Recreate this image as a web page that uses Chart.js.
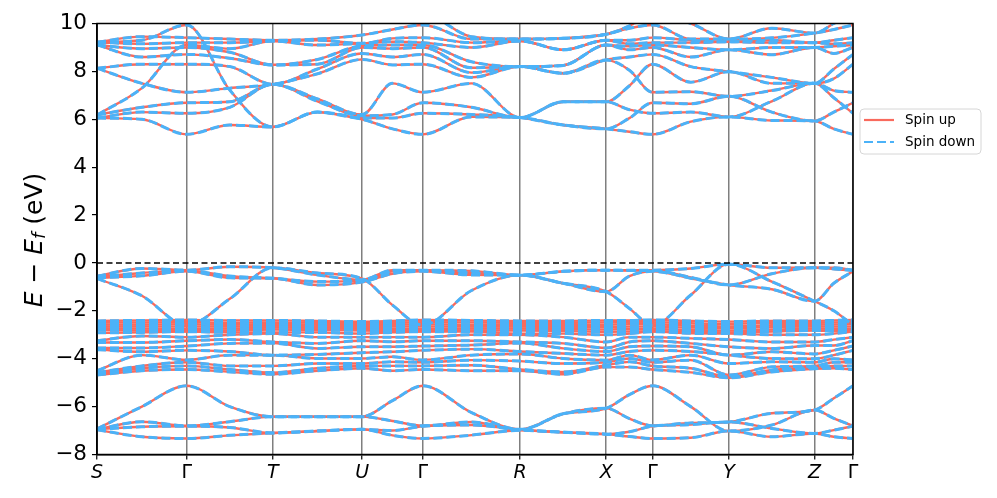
<!DOCTYPE html>
<html><head><meta charset="utf-8">
<script src="https://cdn.jsdelivr.net/npm/chart.js@4.4.0/dist/chart.umd.min.js"></script>
<style>html,body{margin:0;padding:0;background:#fff;}</style>
</head><body>
<canvas id="c" width="997" height="498" style="display:block;width:997px;height:498px"></canvas>
<script>
// High-symmetry path
const kLabels = ['S','Γ','T','U','Γ','R','X','Γ','Y','Z','Γ'];
const kTicks  = [0, 89.7, 175.7, 265, 325.7, 423, 509, 555.3, 631.7, 717.3, 755.7];
// k sampling (high-symmetry points and segment midpoints)
const kGrid = [0,44.9,89.7,132.7,175.7,220.4,265,295.4,325.7,374.4,423,466,509,532.2,555.3,593.5,631.7,674.5,717.3,736.5,755.7];
const yTicks = [-8,-6,-4,-2,0,2,4,6,8,10];

// Conduction bands (eV)
const cbA = [6.05,6.0,5.37,5.76,5.68,6.3,6.05,6.05,6.25,6.2,6.07,5.76,5.6,6.05,6.69,6.65,6.96,6.3,5.93,6.3,6.69];
const cbB = [6.05,6.3,6.25,6.5,7.46,6.75,6.15,6.2,6.69,6.5,6.07,6.73,6.73,6.4,6.25,6.3,6.1,6.75,7.5,6.9,6.25];
const cbC = [6.18,6.5,6.69,6.73,7.46,6.85,6.2,7.5,7.13,7.5,6.07,6.73,6.73,7.4,8.30,7.55,7.99,7.5,7.5,7.7,8.30];
const cbD = [6.18,7.3,9.1,8.95,9.27,9.1,9.17,9.24,9.2,9.0,9.27,8.9,9.3,9.15,9.2,9.2,9.24,9.2,9.2,9.15,9.2];
const cbE = [8.13,7.5,7.13,7.3,7.46,7.9,8.5,8.27,8.30,7.75,8.2,7.92,8.48,8.05,7.13,7.15,6.96,7.2,7.5,7.2,7.13];
const cbF = [8.13,8.3,8.30,8.2,7.46,8.1,8.75,8.6,8.71,7.95,8.2,7.92,8.48,8.6,8.71,8.2,7.99,7.75,7.5,8.1,8.71];
const cbG = [9.1,8.6,8.71,8.55,8.27,8.3,9.0,8.95,9.0,8.15,8.2,8.25,9.1,8.9,9.0,8.6,8.9,8.7,9.0,8.75,9.0];
const cbH = [9.1,8.95,9.0,8.8,8.27,8.5,9.07,9.1,9.1,8.4,8.2,8.25,9.1,9.05,9.1,9.0,8.9,9.0,9.0,9.05,9.1];
const cbI = [9.22,9.15,9.2,9.2,9.27,9.3,9.17,9.38,9.41,9.2,9.27,8.9,9.3,9.3,9.41,9.3,9.24,9.3,9.2,9.3,9.41];
const cbJ = [9.22,9.45,9.41,9.35,9.3,9.35,9.52,9.75,9.94,9.35,9.35,9.38,9.55,9.8,9.94,9.35,9.35,9.4,9.6,9.75,9.94];
const cbK = [9.22,9.3,9.94,7.22,5.68,6.3,6.0,5.6,5.37,6.1,6.07,5.76,5.6,5.48,5.37,5.9,6.1,5.95,5.93,5.6,5.37];
const cbL = [10.3,10.4,10.4,10.2,10.2,10.2,10.2,10.3,10.4,9.45,9.35,9.38,9.55,9.9,10.4,10.0,9.35,9.8,9.6,10.0,10.4];

// Top valence bands
const vtW = [-0.65,-1.37,-2.6,-1.5,-0.2,-0.42,-0.65,-1.76,-2.6,-1.15,-0.51,-0.85,-1.2,-1.9,-2.6,-1.34,-0.05,-0.78,-1.6,-2.0,-2.6];
const vtP = [-0.55,-0.23,-0.30,-0.16,-0.2,-0.5,-0.7,-0.3,-0.3,-0.33,-0.51,-0.35,-0.3,-0.3,-0.3,-0.23,-0.05,-0.2,-0.2,-0.2,-0.3];
const vtQ = [-0.58,-0.42,-0.32,-0.55,-0.64,-0.78,-0.75,-0.35,-0.32,-0.42,-0.51,-0.35,-0.3,-0.32,-0.32,-0.6,-0.92,-0.45,-0.2,-0.25,-0.32];
const vtR = [-0.62,-0.54,-0.35,-0.62,-0.64,-0.92,-0.8,-0.45,-0.35,-0.5,-0.51,-0.85,-1.2,-0.55,-0.35,-0.64,-0.92,-1.1,-1.6,-0.85,-0.35];

// Flat bundle near -2.4 .. -2.9
const st1 = [-2.42,-2.40,-2.38,-2.40,-2.40,-2.42,-2.45,-2.42,-2.38,-2.40,-2.42,-2.42,-2.40,-2.40,-2.38,-2.42,-2.45,-2.42,-2.42,-2.40,-2.38];
const st2 = [-2.50,-2.48,-2.47,-2.50,-2.48,-2.50,-2.52,-2.50,-2.47,-2.48,-2.50,-2.50,-2.48,-2.47,-2.47,-2.52,-2.55,-2.50,-2.50,-2.48,-2.47];
const st3 = [-2.58,-2.57,-2.56,-2.58,-2.55,-2.58,-2.60,-2.58,-2.56,-2.58,-2.58,-2.60,-2.58,-2.56,-2.56,-2.62,-2.65,-2.60,-2.58,-2.57,-2.56];
const st4 = [-2.66,-2.65,-2.66,-2.66,-2.62,-2.65,-2.68,-2.66,-2.66,-2.66,-2.66,-2.68,-2.68,-2.66,-2.66,-2.70,-2.72,-2.68,-2.66,-2.66,-2.66];
const st5 = [-2.73,-2.74,-2.76,-2.74,-2.70,-2.72,-2.75,-2.75,-2.76,-2.74,-2.74,-2.76,-2.78,-2.76,-2.76,-2.80,-2.82,-2.78,-2.74,-2.75,-2.76];
const st6 = [-2.80,-2.82,-2.85,-2.82,-2.78,-2.80,-2.82,-2.84,-2.85,-2.82,-2.82,-2.84,-2.88,-2.86,-2.85,-2.88,-2.90,-2.86,-2.82,-2.84,-2.85];

// Middle valence bands (-2.9 .. -4.8)
const mv1 = [-2.92,-2.9,-2.87,-2.9,-2.9,-2.9,-2.95,-2.9,-2.87,-2.87,-2.95,-2.95,-3.0,-2.95,-2.87,-2.94,-2.95,-3.0,-3.0,-2.95,-2.87];
const mv2 = [-3.25,-3.05,-3.1,-3.0,-2.95,-3.1,-3.1,-3.1,-3.1,-3.0,-3.0,-3.1,-3.3,-3.1,-3.1,-3.15,-3.2,-3.3,-3.3,-3.2,-3.1];
const mv3 = [-3.32,-3.32,-3.25,-3.2,-3.3,-3.36,-3.25,-3.29,-3.25,-3.25,-3.3,-3.36,-3.55,-3.3,-3.25,-3.36,-3.5,-3.57,-3.45,-3.45,-3.25];
const mv4 = [-3.55,-3.55,-3.47,-3.36,-3.35,-3.57,-3.5,-3.5,-3.47,-3.43,-3.35,-3.57,-3.7,-3.5,-3.47,-3.5,-3.85,-3.71,-3.8,-3.65,-3.47];
const mv5 = [-3.62,-3.71,-3.65,-3.7,-3.85,-3.82,-3.75,-3.71,-3.65,-3.6,-3.7,-3.78,-3.85,-3.7,-3.65,-3.7,-3.85,-3.99,-4.0,-3.85,-3.65];
const mv6 = [-4.5,-3.85,-4.05,-3.85,-3.85,-3.99,-3.99,-3.92,-4.05,-3.85,-3.8,-3.99,-4.06,-3.85,-4.05,-3.85,-4.2,-4.13,-4.15,-4.0,-4.05];
const mv7 = [-4.58,-4.3,-4.15,-4.3,-4.3,-4.2,-4.2,-4.13,-4.15,-4.06,-4.1,-4.2,-4.15,-3.99,-4.15,-4.06,-4.68,-4.34,-4.3,-4.15,-4.15];
const mv8 = [-4.63,-4.4,-4.3,-4.45,-4.58,-4.4,-4.3,-4.3,-4.3,-4.27,-4.45,-4.55,-4.27,-4.13,-4.3,-4.4,-4.75,-4.47,-4.35,-4.3,-4.3];
const mv9 = [-4.68,-4.5,-4.45,-4.55,-4.65,-4.5,-4.4,-4.5,-4.45,-4.5,-4.5,-4.65,-4.35,-4.35,-4.45,-4.57,-4.8,-4.55,-4.42,-4.4,-4.45];

// Lower valence bands (-5 .. -7.4)
const lbA = [-6.93,-6.0,-5.13,-6.0,-6.42,-6.42,-6.42,-5.75,-5.13,-6.25,-6.95,-6.3,-6.07,-5.5,-5.13,-6.0,-7.02,-6.77,-6.14,-6.49,-6.8];
const lbB = [-6.95,-6.63,-6.8,-6.63,-6.42,-6.42,-6.42,-6.6,-6.8,-6.64,-6.97,-6.3,-6.07,-6.5,-6.8,-6.68,-6.64,-6.28,-6.14,-5.65,-5.13];
const lbC = [-6.95,-6.84,-6.82,-6.87,-7.1,-7.02,-6.95,-7.0,-6.82,-6.77,-6.97,-7.07,-7.15,-7.05,-6.82,-6.75,-6.64,-6.91,-7.12,-6.98,-6.82];
const lbD = [-6.97,-7.26,-7.33,-7.2,-7.1,-7.02,-6.95,-7.2,-7.33,-7.19,-6.99,-7.07,-7.15,-7.25,-7.33,-7.3,-7.02,-7.26,-7.12,-7.26,-7.33];

const spinUpBands = [cbA,cbB,cbC,cbD,cbE,cbF,cbG,cbH,cbI,cbJ,cbK,cbL,vtW,vtP,vtQ,vtR,st1,st2,st3,st4,st5,st6,mv1,mv2,mv3,mv4,mv5,mv6,mv7,mv8,mv9,lbA,lbB,lbC,lbD];
const spinDownBands = spinUpBands; // both spin channels coincide in the figure

const RED = '#f96a5d';
const BLUE = '#4bb2f8';
const FONT = 'DejaVu Sans';

const datasets = [];
datasets.push({label:'Ef', data:[{x:kTicks[0],y:0},{x:kTicks[kTicks.length-1],y:0}], borderColor:'#000', borderWidth:1.6, borderDash:[6,3.5], pointRadius:0, order:-1, clip:0});
spinDownBands.forEach(b => {
  datasets.push({label:'Spin down', data:b.map((v,i)=>({x:kGrid[i],y:v})), borderColor:BLUE, borderWidth:3, borderDash:[9,4],
    pointRadius:0, order:0, cubicInterpolationMode:'monotone', clip:0});
});
spinUpBands.forEach(b => {
  datasets.push({label:'Spin up', data:b.map((v,i)=>({x:kGrid[i],y:v})), borderColor:RED, borderWidth:2.4,
    pointRadius:0, order:1, cubicInterpolationMode:'monotone', clip:0});
});

const framePlugin = {
  id:'frame',
  afterDraw(chart){
    const {ctx, chartArea:a} = chart;
    ctx.save();
    ctx.strokeStyle = '#000'; ctx.lineWidth = 1.5;
    ctx.strokeRect(a.left, a.top, a.right-a.left, a.bottom-a.top);
    // y-axis label: E − E_f (eV)
    ctx.translate(35, 240);
    ctx.rotate(-Math.PI/2);
    const fs = 25;
    const parts = [
      {t:'E', f:`italic ${fs}px "${FONT}"`, dy:0},
      {t:' \u2212 ', f:`${fs}px "${FONT}"`, dy:0},
      {t:'E', f:`italic ${fs}px "${FONT}"`, dy:0},
      {t:'f', f:`italic ${Math.round(fs*0.7)}px "${FONT}"`, dy:5},
      {t:' (eV)', f:`${fs}px "${FONT}"`, dy:0}
    ];
    let w = 0;
    parts.forEach(p => { ctx.font = p.f; p.w = ctx.measureText(p.t).width; w += p.w; });
    let x = -w/2;
    ctx.fillStyle = '#000'; ctx.textBaseline = 'middle'; ctx.textAlign = 'left';
    parts.forEach(p => { ctx.font = p.f; ctx.fillText(p.t, x, p.dy); x += p.w; });
    ctx.restore();

    // legend
    ctx.save();
    const lx = 860, ly = 109, lw = 121, lh = 45, r = 4;
    ctx.beginPath();
    ctx.moveTo(lx+r, ly); ctx.lineTo(lx+lw-r, ly); ctx.arcTo(lx+lw, ly, lx+lw, ly+r, r);
    ctx.lineTo(lx+lw, ly+lh-r); ctx.arcTo(lx+lw, ly+lh, lx+lw-r, ly+lh, r);
    ctx.lineTo(lx+r, ly+lh); ctx.arcTo(lx, ly+lh, lx, ly+lh-r, r);
    ctx.lineTo(lx, ly+r); ctx.arcTo(lx, ly, lx+r, ly, r); ctx.closePath();
    ctx.fillStyle = 'rgba(255,255,255,0.8)'; ctx.fill();
    ctx.strokeStyle = '#d6d6d6'; ctx.lineWidth = 1; ctx.stroke();
    ctx.lineWidth = 2.2;
    ctx.strokeStyle = RED; ctx.beginPath(); ctx.moveTo(864,120); ctx.lineTo(894,120); ctx.stroke();
    ctx.strokeStyle = BLUE; ctx.setLineDash([9,4]); ctx.beginPath(); ctx.moveTo(864,142); ctx.lineTo(894,142); ctx.stroke();
    ctx.setLineDash([]);
    ctx.fillStyle = '#000'; ctx.font = `13.5px "${FONT}"`; ctx.textBaseline = 'middle'; ctx.textAlign = 'left';
    ctx.fillText('Spin up', 905, 120.5);
    ctx.fillText('Spin down', 905, 142.5);
    ctx.restore();
  }
};

new Chart(document.getElementById('c'), {
  type:'line',
  data:{datasets},
  options:{
    responsive:false, animation:false, devicePixelRatio:1,
    layout:{padding:{left:0, right:144, top:23.5, bottom:0}},
    plugins:{legend:{display:false}, tooltip:{enabled:false}},
    elements:{line:{borderCapStyle:'butt', borderJoinStyle:'round'}},
    scales:{
      x:{type:'linear', min:kTicks[0], max:kTicks[kTicks.length-1],
        afterBuildTicks: s => { s.ticks = kTicks.map(v=>({value:v})); },
        afterFit: s => { s.height = 43.5; },
        ticks:{autoSkip:false, maxRotation:0, color:'#000', padding:2,
          callback:(v,i)=>kLabels[i],
          font: c => ({family:FONT, size:19, style: (kLabels[c.index]==='Γ' ? 'normal' : 'italic')})},
        grid:{color:'rgba(105,105,105,0.85)', lineWidth:1.5, tickColor:'#000', tickLength:5, tickWidth:1.2},
        border:{display:true, color:'#000', width:1.5}
      },
      y:{type:'linear', min:-8, max:10,
        afterBuildTicks: s => { s.ticks = yTicks.map(v=>({value:v})); },
        afterFit: s => { s.width = 97; },
        ticks:{color:'#000', padding:5, font:{family:FONT, size:21.5},
          callback: v => (v<0 ? '\u2212'+Math.abs(v) : String(v))},
        grid:{drawOnChartArea:false, tickColor:'#000', tickLength:5, lineWidth:1.2},
        border:{display:true, color:'#000', width:1.5}
      }
    }
  },
  plugins:[framePlugin]
});
</script>
</body></html>
